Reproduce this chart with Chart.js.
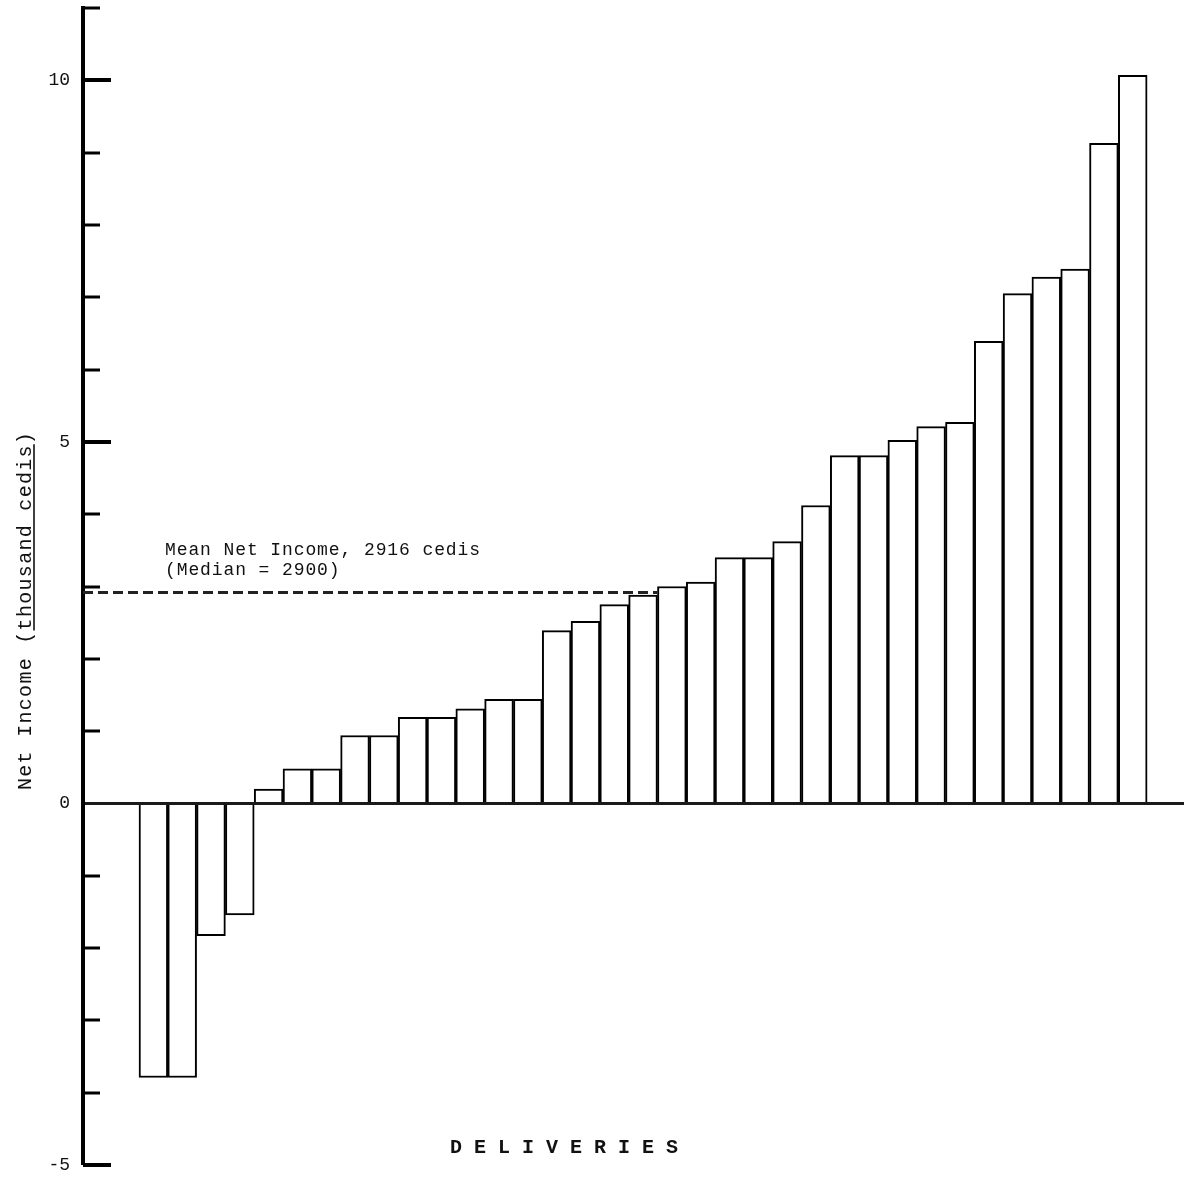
<!DOCTYPE html>
<html>
<head>
<meta charset="utf-8">
<script src="https://cdn.jsdelivr.net/npm/chart.js@4.4.1/dist/chart.umd.min.js"></script>
<style>
  html, body { margin: 0; padding: 0; background: #ffffff; }
  #wrap { position: relative; width: 1184px; height: 1179px; }
</style>
</head>
<body>
<div id="wrap"><canvas id="c"></canvas></div>
<script>
// ---- data (net income per delivery, thousand cedis) ----
const deliveries = [1, 2, 3, 4, 5, 6, 7, 8, 9, 10, 11, 12, 13, 14, 15, 16, 17, 18,
                    19, 20, 21, 22, 23, 24, 25, 26, 27, 28, 29, 30, 31, 32, 33, 34, 35];
const netIncome = [-3.79, -3.79, -1.83, -1.54, 0.20, 0.48, 0.48, 0.94, 0.94, 1.19,
                   1.19, 1.31, 1.44, 1.44, 2.39, 2.52, 2.75, 2.88, 3.00, 3.06,
                   3.40, 3.40, 3.62, 4.12, 4.81, 4.81, 5.02, 5.21, 5.27, 6.39,
                   7.05, 7.28, 7.39, 9.13, 10.07];
const meanIncome = 2.916;          // 2916 cedis
const meanLineEnd = 18.5;          // dashed line ends at edge of delivery 19
const yTickLabels = ['-5', '0', '5', '10'];
const yAxisTitle = ['Net Income ', 'thousand cedis'];
const meanLabel = ['Mean Net Income, 2916 cedis', '(Median = 2900)'];
const xAxisTitle = 'D E L I V E R I E S';

const X_MIN = -1.444, X_MAX = 36.78;
const Y_MIN = -5, Y_MAX = 11;
const MONO = '"Liberation Mono", "DejaVu Sans Mono", monospace';

const decorPlugin = {
  id: 'decor',
  afterDraw(chart) {
    const ctx = chart.ctx;
    const ys = chart.scales.y;
    const axisX = chart.chartArea.left;
    ctx.save();
    // inward tick marks
    ctx.strokeStyle = '#000';
    for (let v = Y_MIN; v <= Y_MAX; v++) {
      if (v === 0) continue;
      const py = Math.round(ys.getPixelForValue(v));
      const major = v % 5 === 0;
      ctx.lineWidth = major ? 4 : 3;
      ctx.beginPath();
      ctx.moveTo(axisX, py);
      ctx.lineTo(axisX + (major ? 28 : 17), py);
      ctx.stroke();
    }
    // y axis title (rotated) with underline on "thousand cedis"
    ctx.fillStyle = '#111';
    ctx.font = '20px ' + MONO;
    if ('letterSpacing' in ctx) ctx.letterSpacing = '1.3px';
    ctx.translate(31, 790);
    ctx.rotate(-Math.PI / 2);
    ctx.textAlign = 'left';
    ctx.textBaseline = 'alphabetic';
    const part1 = yAxisTitle[0] + '(';
    ctx.fillText(part1, 0, 0);
    const w1 = ctx.measureText(part1).width;
    ctx.fillText(yAxisTitle[1], w1, 0);
    const w2 = ctx.measureText(yAxisTitle[1]).width;
    ctx.fillText(')', w1 + w2, 0);
    ctx.lineWidth = 1.5;
    ctx.beginPath();
    ctx.moveTo(w1, 3);
    ctx.lineTo(w1 + w2, 3);
    ctx.stroke();
    ctx.restore();

    ctx.save();
    ctx.fillStyle = '#111';
    if ('letterSpacing' in ctx) ctx.letterSpacing = '0.9px';
    ctx.font = '18px ' + MONO;
    ctx.textAlign = 'left';
    ctx.textBaseline = 'alphabetic';
    const my = ys.getPixelForValue(meanIncome);
    ctx.fillText(meanLabel[0], 165, my - 38);
    ctx.fillText(meanLabel[1], 165, my - 18);
    // x axis title
    if ('letterSpacing' in ctx) ctx.letterSpacing = '0px';
    ctx.font = 'bold 20px ' + MONO;
    ctx.textAlign = 'center';
    ctx.fillText(xAxisTitle, 564, 1153);
    ctx.restore();
  }
};

new Chart(document.getElementById('c'), {
  data: {
    datasets: [
      {
        type: 'bar',
        data: deliveries.map((d, i) => ({ x: d, y: netIncome[i] })),
        backgroundColor: '#ffffff',
        borderColor: '#000000',
        borderWidth: 2,
        barPercentage: 1,
        categoryPercentage: 1,
        order: 2
      },
      {
        type: 'line',
        data: [{ x: X_MIN, y: meanIncome }, { x: meanLineEnd, y: meanIncome }],
        borderColor: '#222222',
        borderWidth: 3,
        borderDash: [10, 5],
        pointRadius: 0,
        fill: false,
        order: 1
      }
    ]
  },
  options: {
    responsive: true,
    maintainAspectRatio: false,
    animation: false,
    layout: { padding: { top: 8, bottom: 14, left: 0, right: 0 } },
    plugins: { legend: { display: false }, tooltip: { enabled: false } },
    scales: {
      x: {
        type: 'linear',
        display: false,
        min: X_MIN,
        max: X_MAX,
        offset: false
      },
      y: {
        type: 'linear',
        min: Y_MIN,
        max: Y_MAX,
        z: 1,
        afterFit(scale) { scale.width = 83; scale.paddingTop = 0; scale.paddingBottom = 0; },
        border: { display: true, color: '#000', width: 4 },
        grid: {
          drawTicks: false,
          color: (c) => (c.tick && c.tick.value === 0 ? '#1a1a1a' : 'rgba(0,0,0,0)'),
          lineWidth: (c) => (c.tick && c.tick.value === 0 ? 3 : 0)
        },
        ticks: {
          stepSize: 1,
          autoSkip: false,
          padding: 13,
          color: '#111',
          font: { family: MONO, size: 18 },
          callback: (v) => (yTickLabels.includes(String(v)) ? String(v) : '')
        }
      }
    }
  },
  plugins: [decorPlugin]
});
</script>
</body>
</html>
